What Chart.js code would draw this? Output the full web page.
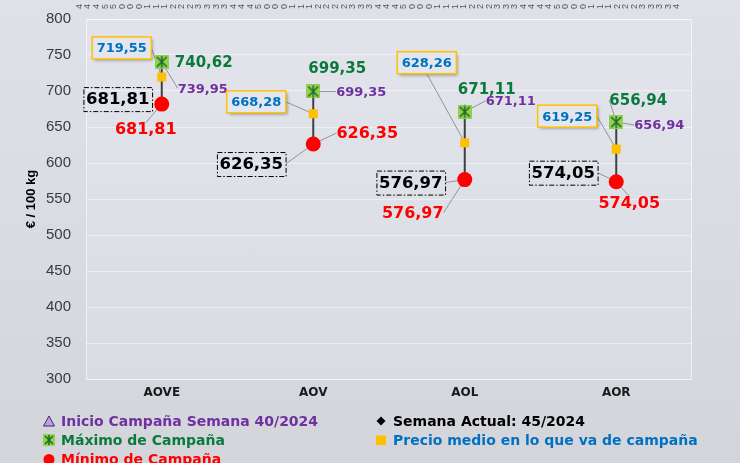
<!DOCTYPE html>
<html lang="es">
<head>
<meta charset="utf-8">
<title>Precios aceite de oliva</title>
<script src="https://cdn.jsdelivr.net/npm/chart.js@4.4.1/dist/chart.umd.min.js"></script>
<style>
  html, body { margin: 0; padding: 0; }
  #wrap {
    position: relative; width: 740px; height: 463px; overflow: hidden;
    background: linear-gradient(to bottom, #dfe1e9 0%, #d9dbe3 55%, #d3d5db 100%);
  }
  #chart { position: absolute; left: 0; top: 0; }
  #legend {
    position: absolute; left: 43px; top: 411px;
    display: grid; grid-template-columns: 332px auto; grid-auto-rows: 19px;
    font: bold 14px "DejaVu Sans", Verdana, sans-serif;
  }
  #legend .item { display: flex; align-items: center; white-space: nowrap; }
  #legend svg { width: 12px; height: 12px; margin-right: 6px; flex: none; }
</style>
</head>
<body>
<div id="wrap">
  <canvas id="chart" width="740" height="463"></canvas>
  <div id="legend"></div>
</div>
<script>
// --- Data ---
const categories = ['AOVE', 'AOV', 'AOL', 'AOR'];
const inicioValues = [739.95, 699.35, 671.11, 656.94];
const semanaValues = [681.81, 626.35, 576.97, 574.05];
const maximoValues = [740.62, 699.35, 671.11, 656.94];
const medioValues = [719.55, 668.28, 628.26, 619.25];
const minimoValues = [681.81, 626.35, 576.97, 574.05];
const yTickValues = [300, 350, 400, 450, 500, 550, 600, 650, 700, 750, 800];
const topTickLabels = [
    '4', '4', '4', '5', '5', '0', '0', '0', '1', '1', '1', '2', '2', '2', '3', '3', '3', '3', '4',
    '4', '4', '5', '0', '0', '0', '1', '1', '1', '2', '2', '2', '2', '3', '3', '3', '4', '4', '4',
    '5', '0', '0', '0', '1', '1', '1', '1', '2', '2', '2', '3', '3', '3', '4', '4', '4', '4', '5',
    '0', '0', '0', '1', '1', '1', '2', '2', '2', '3', '3', '3', '3', '4'
];
const yTitle = '€ / 100 kg';
const names = {
    inicio: 'Inicio Campaña Semana 40/2024',
    semana: 'Semana Actual: 45/2024',
    maximo: 'Máximo de Campaña',
    medio: 'Precio medio en lo que va de campaña',
    minimo: 'Mínimo de Campaña'
};

// --- Look ---
const FONT = '"DejaVu Sans", Verdana, sans-serif';
const colors = {
    inicio: '#7030a0',
    semana: '#000000',
    maximo: '#0a7a3c',
    medio: '#0070c0',
    minimo: '#ff0000'
};

// label placement relative to each marker (dx, dy), plus whether a leader line is drawn
const labelStyles = {
    maximo: { size: 15, offsets: [[42, 0], [24, -23], [22, -23], [22, -22]], leaders: [false, false, false, true] },
    inicio: { size: 13, offsets: [[41, 26], [48, 0], [46, -11], [43, 3]], leaders: [true, true, true, true] },
    medio:  { size: 13, box: 'gold', offsets: [[-40, -29], [-57, -12], [-38, -80], [-49, -33]], leaders: [true, true, true, true] },
    semana: { size: 16.5, box: 'dashdot', offsets: [[-44, -5], [-62, 20], [-54, 3], [-53, -9]], leaders: [false, true, true, true] },
    minimo: { size: 16, offsets: [[-16, 25], [54, -11], [-52, 33], [13, 21]], leaders: [true, true, true, true] }
};

function fmt(v) {
    return v.toFixed(2).replace('.', ',');
}

// green box with a dark asterisk, used for the maximum marker
function makeMaxMarker(size) {
    const c = document.createElement('canvas');
    c.width = size;
    c.height = size;
    const g = c.getContext('2d');
    g.fillStyle = '#92d050';
    g.fillRect(0, 0, size, size);
    g.strokeStyle = '#1d6b26';
    g.lineWidth = 1.5;
    g.beginPath();
    g.moveTo(2, 2); g.lineTo(size - 2, size - 2);
    g.moveTo(size - 2, 2); g.lineTo(2, size - 2);
    g.moveTo(size / 2, 1); g.lineTo(size / 2, size - 1);
    g.stroke();
    return c;
}

// --- Label helpers ---
function labelItems(chart) {
    const ctx = chart.ctx;
    const items = [];
    Object.keys(labelStyles).forEach(key => {
        const idx = chart.data.datasets.findIndex(d => d.id === key);
        const meta = chart.getDatasetMeta(idx);
        const st = labelStyles[key];
        meta.data.forEach((pt, i) => {
            const text = fmt(chart.data.datasets[idx].data[i]);
            ctx.font = `bold ${st.size}px ${FONT}`;
            const tw = ctx.measureText(text).width;
            let w = tw, h = st.size * 0.8;
            if (st.box === 'gold') { w = tw + 9; h = 22; }
            if (st.box === 'dashdot') { w = tw + 5; h = 24; }
            items.push({
                key, st, text, w, h,
                px: pt.x, py: pt.y,
                x: pt.x + st.offsets[i][0],
                y: pt.y + st.offsets[i][1],
                leader: st.leaders[i]
            });
        });
    });
    return items;
}

// leader lines end on the midpoint of the label edge closest to the marker
function leaderEnd(it) {
    const mids = [
        [it.x - it.w / 2, it.y], [it.x + it.w / 2, it.y],
        [it.x, it.y - it.h / 2], [it.x, it.y + it.h / 2]
    ];
    let best = mids[0], bestD = Infinity;
    mids.forEach(m => {
        const d = Math.hypot(m[0] - it.px, m[1] - it.py);
        if (d < bestD) { bestD = d; best = m; }
    });
    return best;
}

const rangeAndLabels = {
    id: 'rangeAndLabels',
    beforeDraw(chart) {
        const { ctx, chartArea: a } = chart;
        ctx.save();
        ctx.fillStyle = 'rgba(255,255,255,0.12)';
        ctx.fillRect(a.left, a.top, a.right - a.left, a.bottom - a.top);
        ctx.strokeStyle = 'rgba(255,255,255,0.55)';
        ctx.lineWidth = 1;
        ctx.strokeRect(a.left + 0.5, a.top + 0.5, a.right - a.left - 1, a.bottom - a.top);
        ctx.restore();
    },
    beforeDatasetsDraw(chart) {
        const ctx = chart.ctx;
        const maxMeta = chart.getDatasetMeta(chart.data.datasets.findIndex(d => d.id === 'maximo'));
        const minMeta = chart.getDatasetMeta(chart.data.datasets.findIndex(d => d.id === 'minimo'));
        ctx.save();
        // leader lines
        ctx.strokeStyle = '#919398';
        ctx.lineWidth = 1;
        labelItems(chart).forEach(it => {
            if (!it.leader) return;
            const [ex, ey] = leaderEnd(it);
            ctx.beginPath();
            ctx.moveTo(it.px, it.py);
            ctx.lineTo(ex, ey);
            ctx.stroke();
        });
        // high-low lines
        ctx.strokeStyle = '#404040';
        ctx.lineWidth = 2;
        maxMeta.data.forEach((pt, i) => {
            ctx.beginPath();
            ctx.moveTo(pt.x, pt.y);
            ctx.lineTo(pt.x, minMeta.data[i].y);
            ctx.stroke();
        });
        ctx.restore();
    },
    afterDatasetsDraw(chart) {
        const ctx = chart.ctx;
        ctx.save();
        labelItems(chart).forEach(it => {
            const bx = it.x - it.w / 2, by = it.y - it.h / 2;
            if (it.st.box === 'gold') {
                ctx.save();
                ctx.shadowColor = 'rgba(0,0,0,0.35)';
                ctx.shadowBlur = 3;
                ctx.shadowOffsetX = 2;
                ctx.shadowOffsetY = 2;
                ctx.fillStyle = '#e3e6ed';
                ctx.fillRect(bx, by, it.w, it.h);
                ctx.restore();
                ctx.strokeStyle = '#ffc000';
                ctx.lineWidth = 1.5;
                ctx.strokeRect(bx, by, it.w, it.h);
            } else if (it.st.box === 'dashdot') {
                ctx.strokeStyle = '#000';
                ctx.lineWidth = 1;
                ctx.setLineDash([5, 2, 1.5, 2]);
                ctx.strokeRect(bx + 0.5, by + 0.5, it.w, it.h);
                ctx.setLineDash([]);
            }
            ctx.font = `bold ${it.st.size}px ${FONT}`;
            ctx.fillStyle = colors[it.key];
            ctx.textAlign = 'center';
            ctx.textBaseline = 'middle';
            ctx.fillText(it.text, it.x, it.y + 1);
        });
        ctx.restore();
    }
};

// --- Chart ---
const chart = new Chart(document.getElementById('chart'), {
    type: 'line',
    data: {
        labels: categories,
        datasets: [
            { id: 'maximo', label: names.maximo, data: maximoValues, pointStyle: makeMaxMarker(14), order: 1 },
            { id: 'minimo', label: names.minimo, data: minimoValues, pointStyle: 'circle', pointRadius: 7.5,
              backgroundColor: '#ff0000', borderColor: '#ff0000', borderWidth: 0, order: 2 },
            { id: 'medio', label: names.medio, data: medioValues, pointStyle: 'rect', pointRadius: 6.4,
              backgroundColor: '#ffc000', borderColor: '#e0a800', borderWidth: 0, order: 3 },
            { id: 'inicio', label: names.inicio, data: inicioValues, pointStyle: 'triangle', pointRadius: 7,
              backgroundColor: '#b48ee0', borderColor: '#4b2a80', borderWidth: 1, order: 4 },
            { id: 'semana', label: names.semana, data: semanaValues, pointStyle: 'rectRot', pointRadius: 6,
              backgroundColor: '#000', borderColor: '#000', borderWidth: 0, order: 5 }
        ].map(d => Object.assign({ xAxisID: 'x', yAxisID: 'y', showLine: false, pointHoverRadius: d.pointRadius }, d))
    },
    options: {
        responsive: false,
        animation: false,
        devicePixelRatio: 1,
        layout: { padding: { left: 20, right: 48, top: 0, bottom: 59 } },
        plugins: {
            legend: { display: false },
            tooltip: { enabled: false }
        },
        scales: {
            x: {
                type: 'category',
                position: 'bottom',
                offset: true,
                grid: { display: false, drawTicks: false },
                border: { display: false },
                ticks: { color: '#1a1a1a', padding: 7, font: { family: FONT, size: 12, weight: 'bold' } },
                afterFit: s => { s.height = 25; }
            },
            xTop: {
                type: 'category',
                axis: 'x',
                position: 'top',
                offset: true,
                labels: topTickLabels,
                grid: { display: false, drawTicks: false },
                border: { display: false },
                ticks: {
                    autoSkip: false, minRotation: 90, maxRotation: 90, padding: 10,
                    color: '#555', font: { family: 'Liberation Sans', size: 9 }
                },
                afterFit: s => { s.height = 19; }
            },
            y: {
                min: 300,
                max: 800,
                grid: { color: 'rgba(255,255,255,0.45)', drawTicks: false },
                border: { display: false },
                afterBuildTicks: s => { s.ticks = yTickValues.map(v => ({ value: v })); },
                ticks: { color: '#3a3a3a', padding: 15, font: { family: 'Liberation Sans', size: 15 } },
                title: {
                    display: true, text: yTitle, color: '#000',
                    font: { family: 'Liberation Sans', size: 13, weight: 'bold' }
                },
                afterFit: s => {
                    s.width = 66;
                    // keep the tick padding from pushing the plot area down
                    s.paddingTop = 9;
                    s.paddingBottom = 9;
                }
            }
        }
    },
    plugins: [rangeAndLabels]
});

// --- Legend (two columns, row-major) ---
const legendMarkers = {
    inicio: '<svg viewBox="0 0 12 12"><polygon points="6,1 11.5,11 0.5,11" fill="#c09ae8" stroke="#3b2a6a" stroke-width="1"/></svg>',
    semana: '<svg viewBox="0 0 12 12"><polygon points="6,1.5 10.5,6 6,10.5 1.5,6" fill="#000"/></svg>',
    maximo: '<svg viewBox="0 0 12 12"><rect x="0" y="0" width="12" height="12" fill="#92d050"/>' +
            '<path d="M2 2L10 10M10 2L2 10M6 1L6 11" stroke="#1d6b26" stroke-width="1.6"/></svg>',
    medio: '<svg viewBox="0 0 12 12"><rect x="1" y="1.5" width="10" height="9.5" fill="#ffc000"/></svg>',
    minimo: '<svg viewBox="0 0 12 12"><circle cx="6" cy="6.5" r="5.5" fill="#ff0000"/></svg>'
};
const legendOrder = ['inicio', 'semana', 'maximo', 'medio', 'minimo'];
const legendEl = document.getElementById('legend');
legendOrder.forEach(key => {
    const item = document.createElement('div');
    item.className = 'item';
    item.style.color = colors[key];
    item.innerHTML = legendMarkers[key] + '<span></span>';
    item.querySelector('span').textContent = names[key];
    legendEl.appendChild(item);
});
</script>
</body>
</html>
